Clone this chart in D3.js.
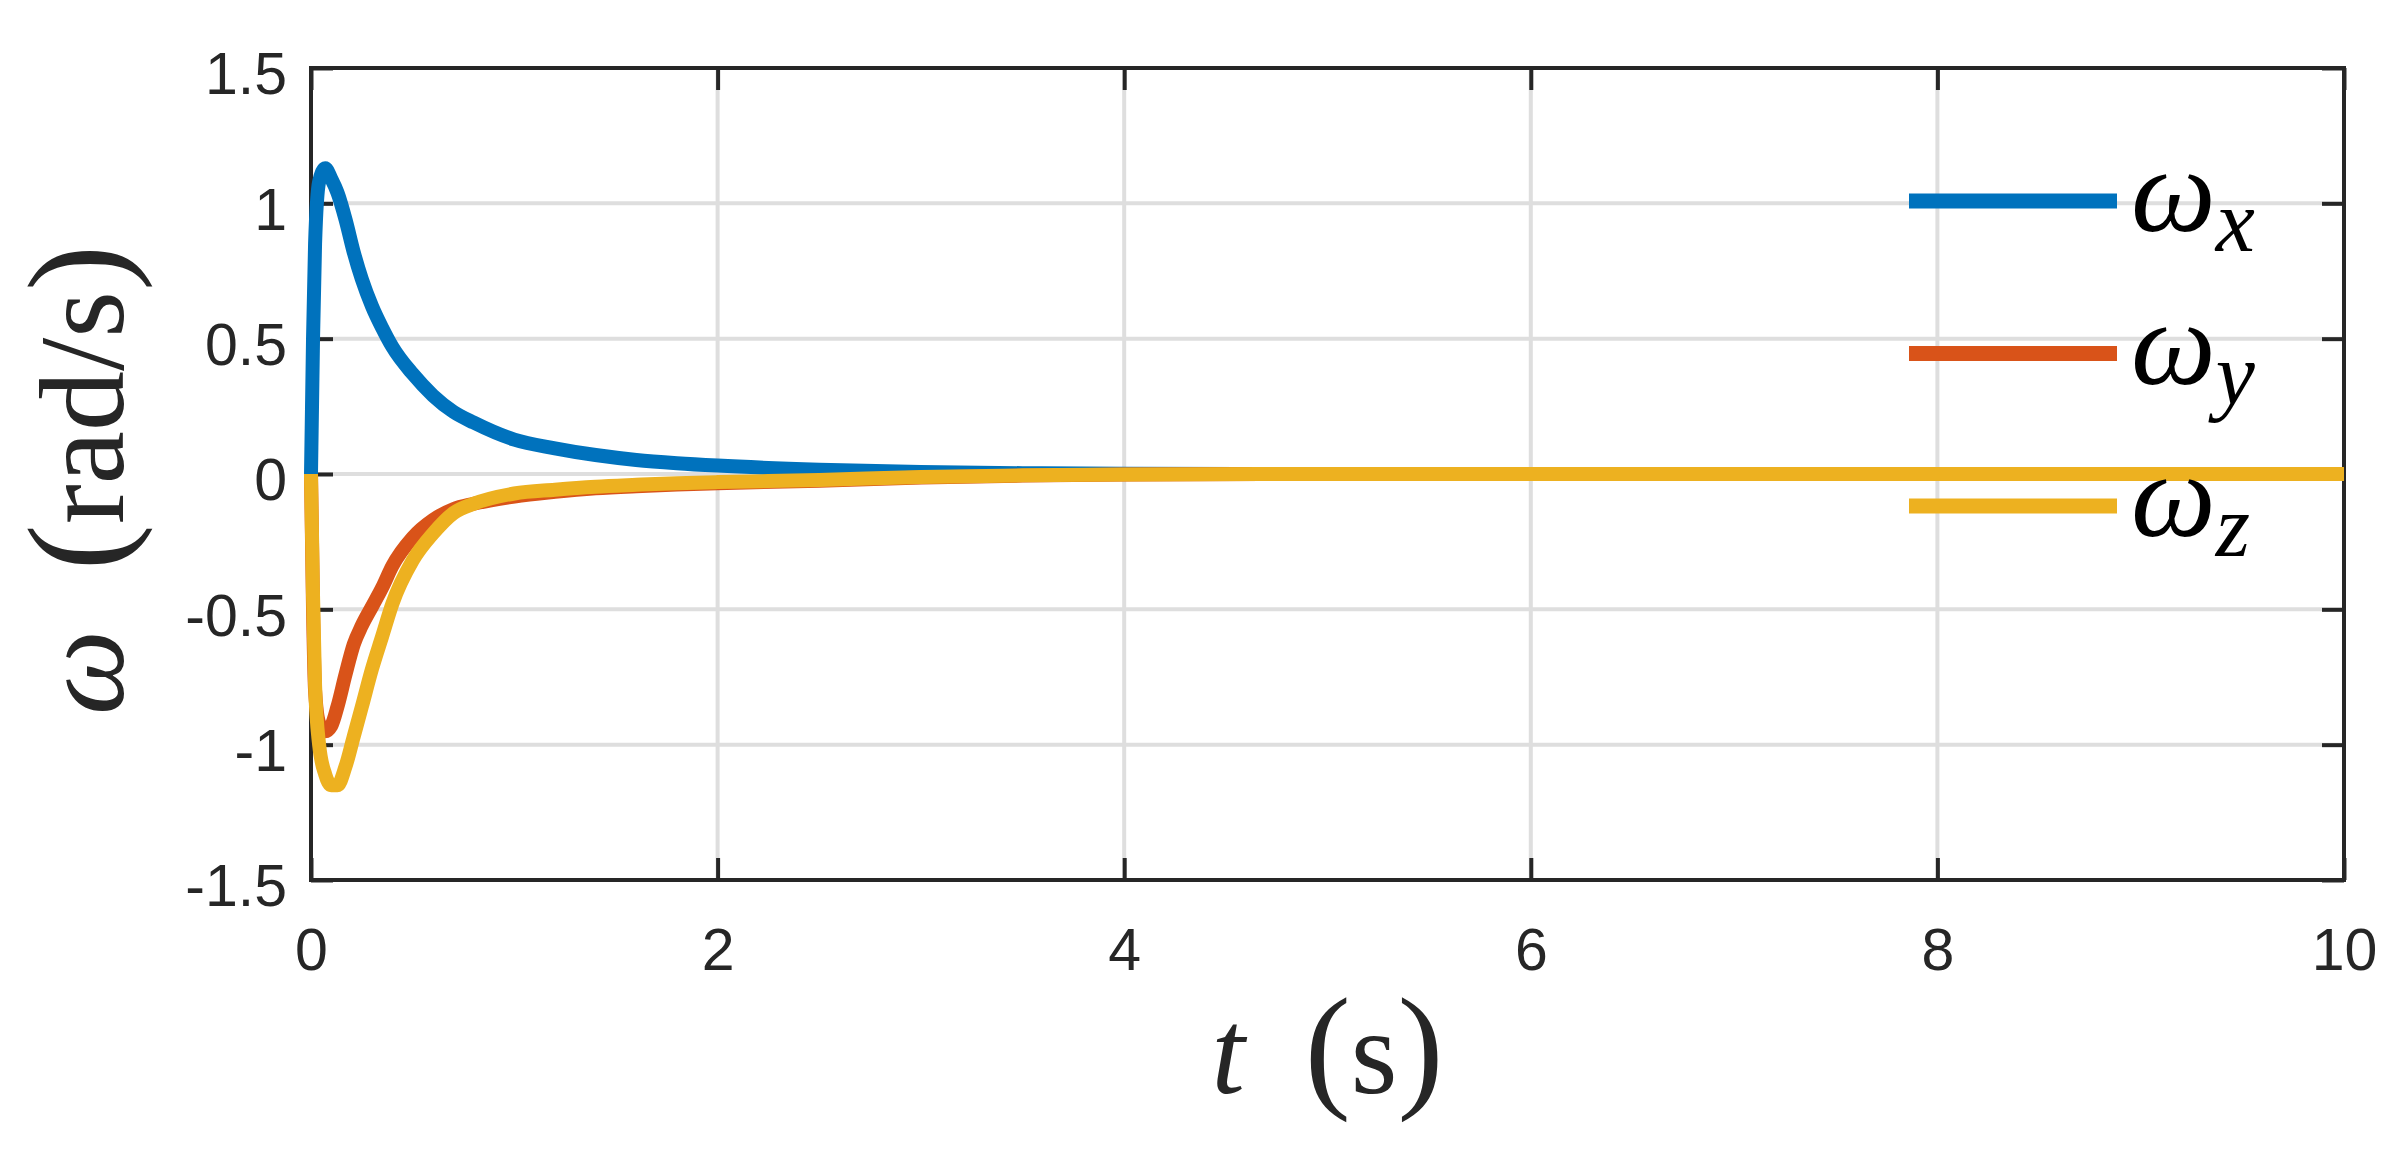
<!DOCTYPE html>
<html><head><meta charset="utf-8">
<script src="https://cdn.jsdelivr.net/npm/d3@7"></script>
<style>body{margin:0;background:#fff}</style>
</head><body><svg id="c" width="2400" height="1154"></svg>
<script>
// ---- data ----
const timeS = [0, 0.01, 0.02, 0.04, 0.07, 0.1, 0.13, 0.17, 0.21, 0.25, 0.3, 0.35, 0.4, 0.5, 0.6, 0.7, 0.8, 1.0, 1.2, 1.4, 1.6, 1.8, 2.0, 2.5, 3.0, 3.5, 4.0, 5, 6, 7, 8, 9, 10];
const omegaX = [0, 0.5, 0.85, 1.08, 1.13, 1.09, 1.04, 0.94, 0.82, 0.72, 0.62, 0.54, 0.47, 0.37, 0.29, 0.23, 0.19, 0.127, 0.095, 0.07, 0.052, 0.04, 0.031, 0.016, 0.007, 0.003, 0.001, 0, 0, 0, 0, 0, 0];
const omegaY = [0, -0.5, -0.8, -0.92, -0.95, -0.93, -0.86, -0.74, -0.63, -0.56, -0.49, -0.42, -0.34, -0.235, -0.17, -0.13, -0.11, -0.083, -0.066, -0.053, -0.045, -0.039, -0.034, -0.025, -0.013, -0.006, -0.002, 0, 0, 0, 0, 0, 0];
const omegaZ = [0, -0.45, -0.78, -1.0, -1.11, -1.15, -1.15, -1.08, -0.97, -0.86, -0.72, -0.6, -0.48, -0.32, -0.22, -0.145, -0.11, -0.072, -0.058, -0.047, -0.04, -0.034, -0.03, -0.022, -0.011, -0.005, -0.002, 0, 0, 0, 0, 0, 0];
const seriesNames = ["x", "y", "z"];
const seriesColors = ["#0072BD", "#D95319", "#EDB120"];
const xTicks = [0, 2, 4, 6, 8, 10];
const yTicks = [-1.5, -1, -0.5, 0, 0.5, 1, 1.5];
const yTickLabels = ["-1.5", "-1", "-0.5", "0", "0.5", "1", "1.5"];

// ---- layout ----
const W = 2400, H = 1154;
const L = 311, R = 2344, T = 68, B = 880;
const ink = "#262626";
const svg = d3.select("#c");
svg.append("rect").attr("width", W).attr("height", H).attr("fill", "#fff");

const x = d3.scaleLinear().domain([0, 10]).range([L, R]);
const y = d3.scaleLinear().domain([-1.5, 1.5]).range([B, T]);

// grid
const grid = svg.append("g").attr("stroke", "#dedede").attr("stroke-width", 4);
grid.selectAll("line.gx").data(xTicks).join("line")
  .attr("x1", d => x(d)).attr("x2", d => x(d)).attr("y1", T).attr("y2", B);
grid.selectAll("line.gy").data(yTicks).join("line")
  .attr("y1", d => y(d)).attr("y2", d => y(d)).attr("x1", L).attr("x2", R);

// axes
const tickFont = "'Liberation Sans', Arial, Helvetica, sans-serif";
function styleAxis(g) {
  g.select(".domain").remove();
  g.selectAll(".tick line").attr("stroke", ink).attr("stroke-width", 4);
  g.selectAll(".tick text").attr("fill", ink).attr("font-family", tickFont).attr("font-size", 59);
}
svg.append("g").attr("transform", `translate(0,${B})`)
  .call(d3.axisBottom(x).tickValues(xTicks).tickFormat(d3.format("d")).tickSize(-22).tickPadding(48))
  .call(styleAxis);
svg.append("g").attr("transform", `translate(0,${T})`)
  .call(d3.axisTop(x).tickValues(xTicks).tickFormat("").tickSize(-22))
  .call(styleAxis);
const yl = svg.append("g").attr("transform", `translate(${L},0)`)
  .call(d3.axisLeft(y).tickValues(yTicks).tickFormat((d, i) => yTickLabels[i]).tickSize(-22).tickPadding(24))
  .call(styleAxis);
yl.selectAll(".tick text").attr("dy", "0.44em");
svg.append("g").attr("transform", `translate(${R},0)`)
  .call(d3.axisRight(y).tickValues(yTicks).tickFormat("").tickSize(-22))
  .call(styleAxis);

// box
svg.append("rect").attr("x", L).attr("y", T).attr("width", R - L).attr("height", B - T)
  .attr("fill", "none").attr("stroke", ink).attr("stroke-width", 4);

// series
const series = [omegaX, omegaY, omegaZ];
const line = d3.line().x((d, i) => x(timeS[i])).y(d => y(d)).curve(d3.curveMonotoneX);
svg.append("g").selectAll("path").data(series).join("path")
  .attr("d", d => line(d))
  .attr("fill", "none")
  .attr("stroke", (d, i) => seriesColors[i])
  .attr("stroke-width", 14)
  .attr("stroke-linejoin", "round")
  .attr("stroke-linecap", "butt");

// legend
const serif = "'Liberation Serif', 'Times New Roman', serif";
const lg = svg.append("g").attr("transform", "translate(1909,201)");
const rowH = 152.5;
seriesNames.forEach((nm, i) => {
  const g = lg.append("g").attr("transform", `translate(0,${i * rowH})`);
  g.append("line").attr("x1", 0).attr("x2", 208).attr("y1", 0).attr("y2", 0)
    .attr("stroke", seriesColors[i]).attr("stroke-width", 15);
  const t = g.append("text").attr("x", 222).attr("y", 30)
    .attr("font-family", serif).attr("font-style", "italic").attr("font-size", 120).attr("fill", "#000");
  t.append("tspan").text("ω");
  t.append("tspan").attr("dy", 20).attr("font-size", 88).text(nm);
});

// axis labels
const xl = svg.append("text").attr("x", (L + R) / 2).attr("y", 1093).attr("text-anchor", "middle")
  .attr("font-family", serif).attr("font-size", 120).attr("fill", ink);
xl.append("tspan").attr("font-style", "italic").text("t");
xl.append("tspan").text("\u2002");
xl.append("tspan").attr("font-size", 138).text("(");
xl.append("tspan").text("s");
xl.append("tspan").attr("font-size", 138).text(")");

const ylab = svg.append("text").attr("transform", `translate(123,480) rotate(-90)`).attr("text-anchor", "middle")
  .attr("font-family", serif).attr("font-size", 120).attr("fill", ink);
ylab.append("tspan").attr("font-style", "italic").text("ω");
ylab.append("tspan").text("\u2002");
ylab.append("tspan").attr("font-size", 138).text("(");
ylab.append("tspan").text("rad/s");
ylab.append("tspan").attr("font-size", 138).text(")");
</script></body></html>
